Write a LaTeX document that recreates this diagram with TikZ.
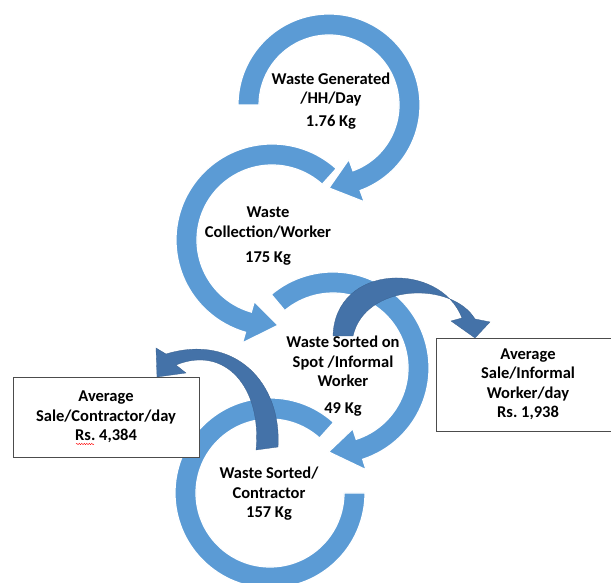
\documentclass[tikz,border=0pt]{standalone}
\usepackage{fontspec}
\setmainfont{Carlito}
\usepackage{tikz}
\usetikzlibrary{positioning,calc,decorations.pathmorphing}

\definecolor{ringblue}{HTML}{5B9BD5}
\definecolor{salesblue}{HTML}{4472A8}

\begin{document}
\begin{tikzpicture}[
  x=1pt, y=1pt,
  ring/.style={fill=ringblue, draw=white, line width=1.2pt},
  salearrow/.style={fill=salesblue, draw=salesblue!85!black, line width=0.3pt},
  lbl/.style={align=center, font=\fontsize{16.5}{19.5}\selectfont\bfseries, inner sep=0pt},
  box/.style={draw=black!70, fill=white, line width=0.8pt, align=center, font=\fontsize{16.5}{19.5}\selectfont\bfseries}
]
  \useasboundingbox (0,0) rectangle (611,583);

  \coordinate (c1) at (329,478);
  \coordinate (c2) at (272,343);
  \coordinate (c3) at (333,215);
  \coordinate (c4) at (270,90);

  % rings, last one first
  \fill[ring, shift={(c4)}] (48:95) arc[start angle=48, end angle=360, radius=95] -- (0:74) arc[start angle=360, end angle=48, radius=74] -- cycle;
  \filldraw[ring, shift={(c3)}] (130:96) arc[start angle=130, end angle=-72, radius=96] -- (-72:107) -- (-93:84) -- (-72:64) -- (-72:75) arc[start angle=-72, end angle=130, radius=75] -- cycle;
  \filldraw[ring, shift={(c2)}] (48:96) arc[start angle=48, end angle=254, radius=96] -- (254:107) -- (274:85.5) -- (254:64) -- (254:75) arc[start angle=254, end angle=48, radius=75] -- cycle;
  \filldraw[ring, shift={(c1)}] (180:91) arc[start angle=180, end angle=-70, radius=91] -- (-70:103) -- (-90:83) -- (-70:58) -- (-70:70) arc[start angle=-70, end angle=180, radius=70] -- cycle;

  \node[box, minimum width=186pt, minimum height=80pt] (lbox) at (106,166) {Average\\Sale/Contractor/day\\Rs.\ 4,384};
  \node[box, minimum width=184pt, minimum height=93pt] (rbox) at (528,198.5) {Average\\Sale/Informal\\Worker/day\\Rs.\ 1,938};
  \draw[red, line width=0.4pt, decorate, decoration={snake, amplitude=0.7pt, segment length=2.5pt}] (76,139) -- (94,139);

  % bent arrows to the sale boxes
  \filldraw[salearrow] (333,247) .. controls (335,320) and (440,322) .. (462,265) -- (451,262) -- (475,245) -- (490,261) -- (475,264) .. controls (452,302) and (365,300) .. (353,247) -- cycle;
  \filldraw[salearrow] (278,136) .. controls (282,200) and (235,250) .. (166,229) -- (156,235) -- (157,206) -- (186,210) -- (176,218) .. controls (225,238) and (262,196) .. (256,133) -- cycle;

  \node[lbl] (gen) at (331,482) {Waste Generated\\/HH/Day\\[3pt]1.76 Kg};
  \node[lbl] (col) at (268,346.5) {Waste\\Collection/Worker\\[6pt]175 Kg};
  \node[lbl] (spot) at (343,207) {Waste Sorted on\\Spot /Informal\\Worker\\[7pt]49 Kg};
  \node[lbl] (con) at (269,89) {Waste Sorted/\\Contractor\\157 Kg};
\end{tikzpicture}
\end{document}
